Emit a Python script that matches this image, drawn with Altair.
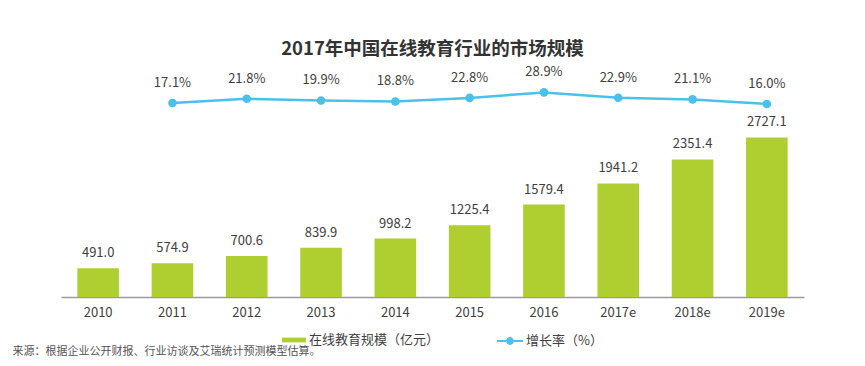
import altair as alt
import pandas as pd

# ---- data ----
years = ["2010", "2011", "2012", "2013", "2014", "2015", "2016", "2017e", "2018e", "2019e"]
market = [491.0, 574.9, 700.6, 839.9, 998.2, 1225.4, 1579.4, 1941.2, 2351.4, 2727.1]
growth_years = ["2011", "2012", "2013", "2014", "2015", "2016", "2017e", "2018e", "2019e"]
growth = [17.1, 21.8, 19.9, 18.8, 22.8, 28.9, 22.9, 21.1, 16.0]
bar_series = "在线教育规模（亿元）"
line_series = "增长率（%）"
title_text = "2017年中国在线教育行业的市场规模"
source_text = "来源：根据企业公开财报、行业访谈及艾瑞统计预测模型估算。"

GREEN = "#AFCF31"
BLUE = "#4AC0EA"
TXT = "#404040"
FONT = "Noto Sans CJK SC"

df_bar = pd.DataFrame({"year": years, "value": market, "series": bar_series})
df_bar["label"] = df_bar["value"].map(lambda v: f"{v:.1f}")
df_line = pd.DataFrame({"year": growth_years, "rate": growth, "series": line_series})
df_line["label"] = df_line["rate"].map(lambda v: f"{v:.1f}%")

xscale = alt.Scale(domain=years, paddingInner=0.44, paddingOuter=0.22)
xaxis = alt.Axis(
    title=source_text, titleX=-49, titleY=54, titleAlign="left", titleAnchor="start",
    titleBaseline="middle", titleFontSize=11, titleFontWeight="normal", titleColor="#555555",
    titleAngle=0,
    labelAngle=0, labelFontSize=13, labelColor=TXT, labelPadding=9,
    ticks=False, domainColor="#9a9a9a", domainWidth=1.5, grid=False,
)
x = alt.X("year:N", scale=xscale, axis=xaxis, sort=years)

ybar = alt.Y("value:Q", scale=alt.Scale(domain=[0, 3709]), axis=None)
yline = alt.Y("rate:Q", scale=alt.Scale(domain=[-198.4, 42.66]), axis=None)

bars = alt.Chart(df_bar).mark_bar().encode(
    x=x, y=ybar,
    fill=alt.Fill("series:N", scale=alt.Scale(domain=[bar_series], range=[GREEN]),
                  legend=alt.Legend(title=None, orient="none", legendX=221, legendY=248,
                                    symbolType="M-1,-0.2H1V0.2H-1Z", symbolSize=576,
                                    symbolStrokeWidth=0,
                                    labelFontSize=13, labelColor=TXT, labelOffset=3, padding=0)),
)
bar_text = alt.Chart(df_bar).mark_text(fontSize=13, color=TXT, baseline="alphabetic", dy=-11).encode(
    x=x, y=ybar, text="label:N"
)
line = alt.Chart(df_line).mark_line(strokeWidth=2.5).encode(
    x=x, y=yline,
    stroke=alt.Stroke("series:N", scale=alt.Scale(domain=[line_series], range=[BLUE]),
                      legend=alt.Legend(title=None, orient="none", legendX=436, legendY=248,
                                        symbolType="M-1,-0.08H-0.3V0.08H-1Z M0.3,-0.08H1V0.08H0.3Z M-0.3,0A0.3,0.3 0 1,0 0.3,0A0.3,0.3 0 1,0 -0.3,0Z",
                                        symbolSize=676, symbolFillColor=BLUE, symbolStrokeWidth=0,
                                        labelFontSize=13, labelColor=TXT, labelOffset=3, padding=0)),
)
points = alt.Chart(df_line).mark_point(filled=True, size=75, color=BLUE, opacity=1).encode(
    x=x, y=yline
)
line_text = alt.Chart(df_line).mark_text(fontSize=13, color=TXT, baseline="alphabetic", dy=-16).encode(
    x=x, y=yline, text="label:N"
)

chart = alt.layer(bars, bar_text, line, points, line_text).resolve_scale(
    y="independent"
).resolve_axis(y="independent").properties(
    width=743, height=217,
    autosize=alt.AutoSizeParams(type="none"),
    padding={"left": 53, "top": 72, "right": 53, "bottom": 61},
    title=alt.Title(title_text, fontSize=18.5, fontWeight="bold", color="#333333",
                    anchor="middle", offset=8),
).configure(font=FONT).configure_view(stroke=None)

chart.save("out.html", embed_options={"renderer": "svg", "actions": False})
